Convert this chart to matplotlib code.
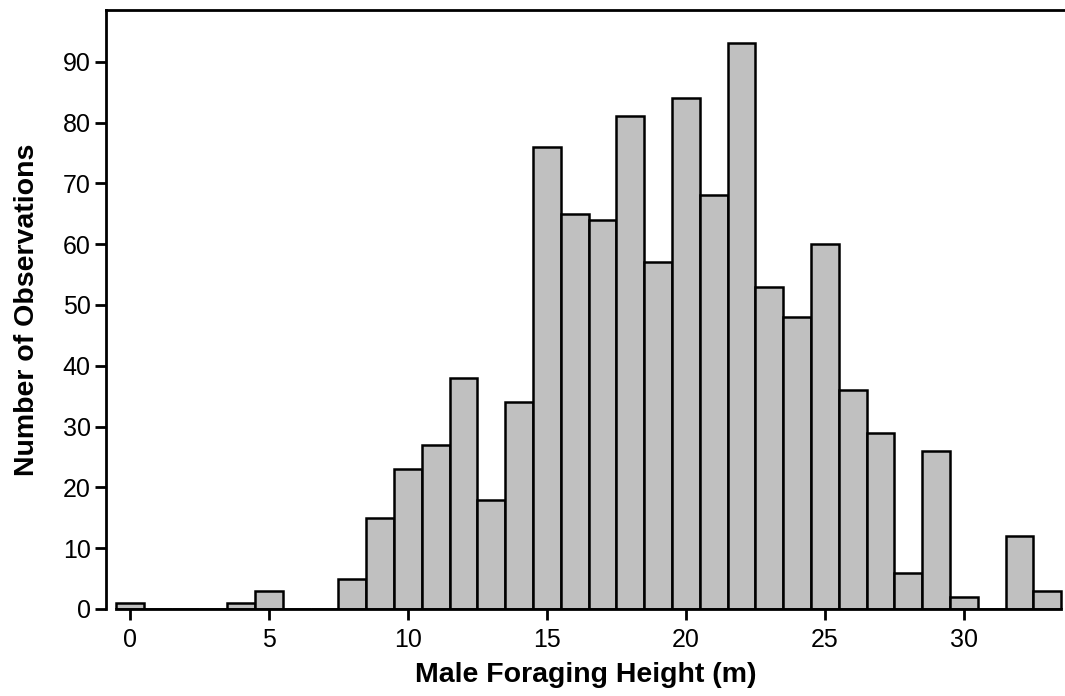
import matplotlib
matplotlib.use("Agg")
import matplotlib.pyplot as plt

plt.rcParams['font.family'] = ['Liberation Sans', 'DejaVu Sans']

heights_m = list(range(0, 34))
counts = [1, 0, 0, 0, 1, 3, 0, 0, 5, 15, 23, 27, 38, 18, 34, 76, 65, 64, 81, 57,
          84, 68, 93, 53, 48, 60, 36, 29, 6, 26, 2, 0, 12, 3]
x_ticks = [0, 5, 10, 15, 20, 25, 30]
y_ticks = [0, 10, 20, 30, 40, 50, 60, 70, 80, 90]

W, H = 1065, 696
fig = plt.figure(figsize=(W / 100, H / 100), dpi=100)
ax = fig.add_axes([106 / W, 1 - 609 / H, (1065 - 106) / W, (609 - 10) / H])

ax.bar(heights_m, counts, width=1.0, color='#c0c0c0', edgecolor='black', linewidth=1.8)

ax.set_xlim(-0.86, 33.64)
ax.set_ylim(0, 98.5)
ax.set_xticks(x_ticks)
ax.set_yticks(y_ticks)

ax.spines['right'].set_visible(False)
ax.spines['bottom'].set_bounds(heights_m[0] - 0.5, heights_m[-1] + 0.5)
ax.spines['bottom'].set_linewidth(2)
ax.spines['top'].set_linewidth(2)
ax.spines['left'].set_linewidth(2)
ax.tick_params(axis='both', direction='out', length=8, width=2, labelsize=18, color='black')
ax.tick_params(axis='x', pad=6)
ax.tick_params(axis='y', pad=3)

ax.set_xlabel('Male Foraging Height (m)', fontsize=20.5, fontweight='bold', labelpad=7)
ax.set_ylabel('Number of Observations', fontsize=20.5, fontweight='bold', labelpad=16)

fig.savefig('out.png', dpi=100)
